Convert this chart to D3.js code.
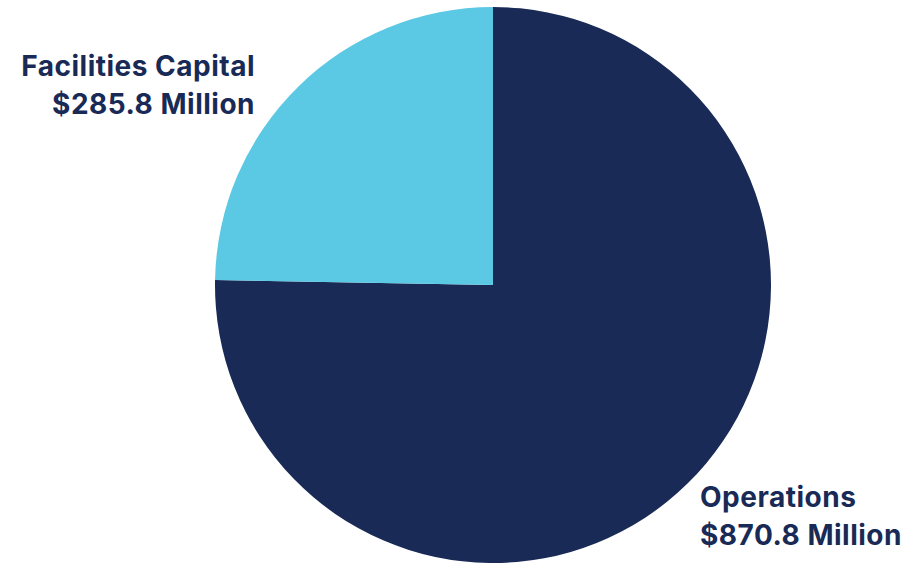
<!DOCTYPE html>
<html>
<head>
<meta charset="utf-8">
<script src="https://cdn.jsdelivr.net/npm/d3@7"></script>
<style>
  body { margin: 0; background: #fff; }
  .lbl { font-family: Inter, "Open Sans", sans-serif; font-weight: 700; fill: #182a55; letter-spacing: 0.5px; }
</style>
</head>
<body>
<div id="chart"></div>
<script>
var categories = ['Operations', 'Facilities Capital'];
var values = [870.8, 285.8];
var valueLabels = ['$870.8 Million', '$285.8 Million'];
var colors = ['#182a55', '#5bc8e4'];

var width = 906, height = 565;
var cx = 493, cy = 285, radius = 278;

var svg = d3.select('#chart').append('svg')
    .attr('width', width)
    .attr('height', height);

var pie = d3.pie().sort(null).value(function (d) { return d; });
var arc = d3.arc().innerRadius(0).outerRadius(radius);

var g = svg.append('g').attr('transform', 'translate(' + cx + ',' + cy + ')');

g.selectAll('path')
  .data(pie(values))
  .enter().append('path')
    .attr('d', arc)
    .attr('fill', function (d, i) { return colors[i]; });

// labels sit outside the pie
var labelPos = [
  { x: 700, y: 507, anchor: 'start' },
  { x: 255, y: 76, anchor: 'end' }
];

categories.forEach(function (c, i) {
  var t = svg.append('text')
    .attr('class', 'lbl')
    .attr('text-anchor', labelPos[i].anchor)
    .attr('font-size', '28px');
  t.append('tspan').attr('x', labelPos[i].x).attr('y', labelPos[i].y).text(c);
  t.append('tspan').attr('x', labelPos[i].x).attr('y', labelPos[i].y + 38).text(valueLabels[i]);
});
</script>
</body>
</html>
